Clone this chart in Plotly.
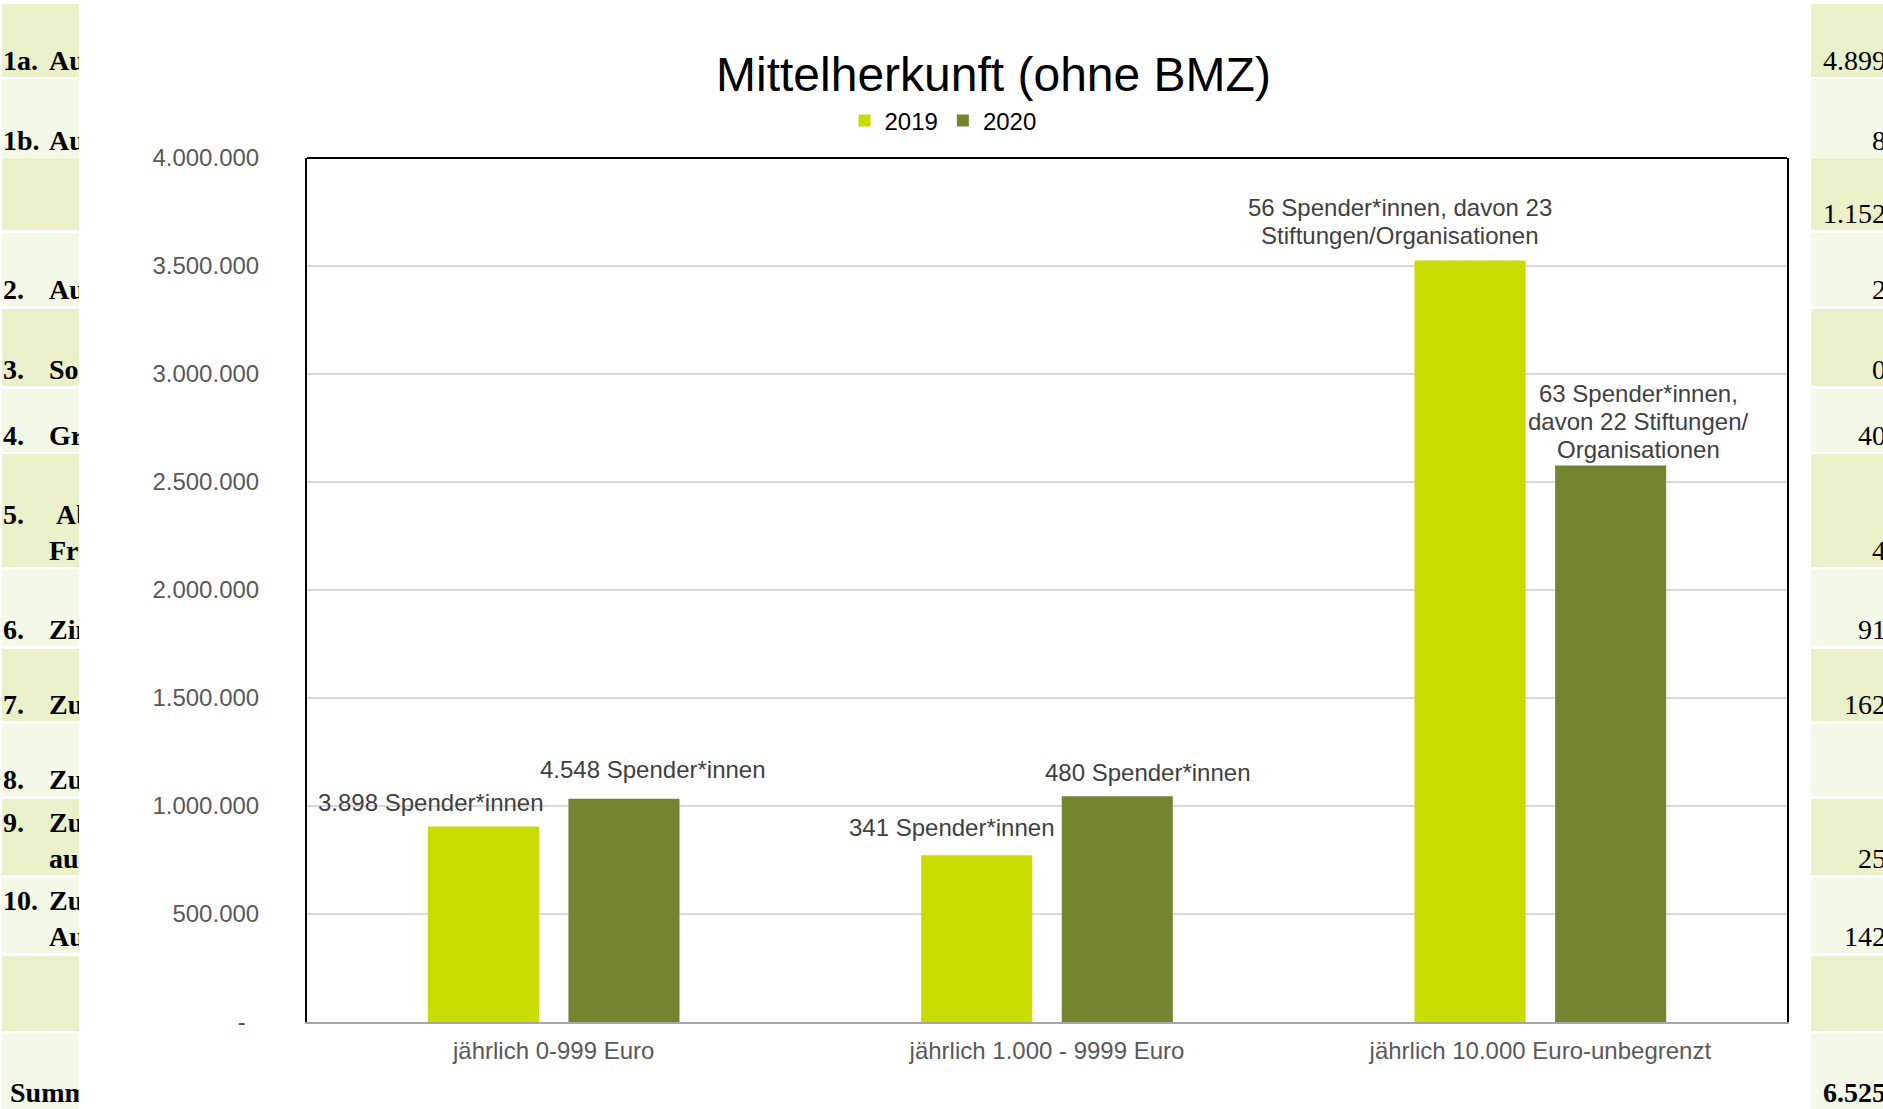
import plotly.graph_objects as go

# ---------------- data ----------------
categories = ["jährlich 0-999 Euro", "jährlich 1.000 - 9999 Euro", "jährlich 10.000 Euro-unbegrenzt"]
series_names = ["2019", "2020"]
values_2019 = [905000, 772000, 3525000]
values_2020 = [1033000, 1045000, 2576000]
labels_2019 = ["3.898 Spender*innen", "341 Spender*innen",
               "56 Spender*innen, davon 23<br>Stiftungen/Organisationen"]
labels_2020 = ["4.548 Spender*innen", "480 Spender*innen",
               "63 Spender*innen,<br>davon 22 Stiftungen/<br>Organisationen"]
y_tick_values = [0, 500000, 1000000, 1500000, 2000000, 2500000, 3000000, 3500000, 4000000]
y_tick_labels = ["-\u00a0\u00a0", "500.000", "1.000.000", "1.500.000", "2.000.000",
                 "2.500.000", "3.000.000", "3.500.000", "4.000.000"]

# background spreadsheet (visible, clipped parts)
table_left_numbers = ["1a.", "1b.", "", "2.", "3.", "4.", "5.<br>\u00a0", "6.", "7.", "8.",
                      "9.<br>\u00a0", "10.<br>\u00a0", "", "\u00a0Summ"]
table_left_words = ["Au", "Au", "", "Au", "Son", "Gr", "\u00a0Ab<br>Fr", "Zin", "Zu", "Zu",
                    "Zu<br>aus", "Zu<br>Au", "", ""]
table_right_values = ["4.899", "8", "1.152", "2", "0", "40", "4", "91", "162", "", "25", "142", "",
                      "<b>6.525</b>"]

# ---------------- layout constants (px) ----------------
W, H = 1883, 1109
PLOT_L, PLOT_R, PLOT_T, PLOT_B = 307, 1787, 158, 1022
LEFT_COL = (2, 79)
RIGHT_COL = (1811, 1883)
row_edges = [(4, 77), (79, 157), (158, 230), (233, 306), (309, 386), (389, 452), (454, 567),
             (570, 646), (649, 721), (724, 796), (799, 875), (878, 953), (956, 1031), (1034, 1109)]
row_fills = ["#EAF0C9", "#F4F8E7"]
series_colors = ["#C8DC00", "#748531"]
BARGAP = 0.43
BARGROUPGAP = 0.21
LABEL_LINE = 27.6
FONT = "Liberation Sans, Arial, sans-serif"
SERIF = "Liberation Serif, Times New Roman, serif"

fig = go.Figure()

# bars
for name, vals, color in zip(series_names, [values_2019, values_2020], series_colors):
    fig.add_trace(go.Bar(x=categories, y=vals, name=name, marker=dict(color=color, line=dict(width=0)),
                         xaxis="x", yaxis="y", hoverinfo="skip"))

# data labels (one annotation per text line, Excel-like line spacing)
cat_px = (PLOT_R - PLOT_L) / len(categories)
bar_off = cat_px * (1 - BARGAP) / 4
label_dx = [[-52, -25, -70], [29, 31, 28]]
label_dy = [[24, 28, 39], [29, 24, 44]]
for si, (vals, labs) in enumerate([(values_2019, labels_2019), (values_2020, labels_2020)]):
    sign = -1 if si == 0 else 1
    for ci, cat in enumerate(categories):
        lines = labs[ci].split("<br>")
        n = len(lines)
        for k, line in enumerate(lines):
            fig.add_annotation(x=cat, y=vals[ci], xref="x", yref="y", text=line, showarrow=False,
                               xshift=sign * bar_off + label_dx[si][ci],
                               yshift=label_dy[si][ci] + ((n - 1) / 2 - k) * LABEL_LINE,
                               xanchor="center", yanchor="middle",
                               font=dict(family=FONT, size=24, color="#404040"))

# background table text (clipped by hidden subplots)
row_bottoms = [b for (_, b) in row_edges]
fig.add_trace(go.Scatter(x=[3] * len(table_left_numbers), y=row_bottoms, text=table_left_numbers,
                         mode="text", textposition="top right", xaxis="x2", yaxis="y2",
                         textfont=dict(family=SERIF, size=28, color="#000000", weight="bold"),
                         showlegend=False, hoverinfo="skip"))
fig.add_trace(go.Scatter(x=[49] * len(table_left_words), y=row_bottoms, text=table_left_words,
                         mode="text", textposition="top right", xaxis="x2", yaxis="y2",
                         textfont=dict(family=SERIF, size=28, color="#000000", weight="bold"),
                         showlegend=False, hoverinfo="skip"))
fig.add_trace(go.Scatter(x=[1886] * len(table_right_values), y=row_bottoms, text=table_right_values,
                         mode="text", textposition="top left", xaxis="x3", yaxis="y2",
                         textfont=dict(family=SERIF, size=28, color="#000000"),
                         showlegend=False, hoverinfo="skip"))

# table cells
for i, (y0, y1) in enumerate(row_edges):
    for xref, (x0, x1) in [("x2", LEFT_COL), ("x3", RIGHT_COL)]:
        fig.add_shape(type="rect", xref=xref, yref="y2", x0=x0, x1=x1, y0=y0, y1=y1,
                      fillcolor=row_fills[i % 2], line=dict(width=0), layer="below")

# top border of plot area
fig.add_shape(type="line", xref="x domain", yref="y domain", x0=0, x1=1, y0=1, y1=1,
              line=dict(color="#000000", width=2))

# title
fig.add_annotation(text="Mittelherkunft (ohne BMZ)", xref="paper", yref="paper",
                   x=993 / W, y=1 - 74 / H, xanchor="center", yanchor="middle", showarrow=False,
                   font=dict(family=FONT, size=48, color="#000000"))

fig.update_layout(
    width=W, height=H, autosize=False,
    margin=dict(l=0, r=0, t=0, b=0, pad=0, autoexpand=False),
    paper_bgcolor="white", plot_bgcolor="white",
    barmode="group", bargap=BARGAP, bargroupgap=BARGROUPGAP,
    showlegend=True,
    legend=dict(orientation="h", x=943 / W, xanchor="center", y=1 - 121 / H, yanchor="middle",
                font=dict(family=FONT, size=24, color="#000000"), bgcolor="rgba(0,0,0,0)",
                itemclick=False, itemdoubleclick=False, itemwidth=30),
    xaxis=dict(domain=[PLOT_L / W, PLOT_R / W], anchor="y", showgrid=False, zeroline=False,
               showline=True, linecolor="#A6A6A6", linewidth=2, ticks="", automargin=False,
               tickfont=dict(family=FONT, size=24, color="#595959"), ticklabelstandoff=6),
    yaxis=dict(domain=[1 - PLOT_B / H, 1 - PLOT_T / H], anchor="x", range=[0, 4000000],
               tickvals=y_tick_values, ticktext=y_tick_labels, showgrid=True, gridcolor="#D9D9D9",
               gridwidth=1.5, zeroline=False, showline=True, linecolor="#000000", linewidth=2,
               mirror=True, ticks="", automargin=False,
               tickfont=dict(family=FONT, size=24, color="#595959"), ticklabelstandoff=41),
    xaxis2=dict(domain=[0, LEFT_COL[1] / W], range=[0, LEFT_COL[1]], anchor="y2", visible=False,
                fixedrange=True, automargin=False),
    xaxis3=dict(domain=[RIGHT_COL[0] / W, 1], range=[RIGHT_COL[0], RIGHT_COL[1]], anchor="y2",
                visible=False, fixedrange=True, automargin=False),
    yaxis2=dict(domain=[0, 1], range=[H, 0], anchor="x2", visible=False, fixedrange=True,
                automargin=False),
)

post = ("document.documentElement.style.margin='0';document.documentElement.style.padding='0';"
        "document.documentElement.style.overflow='hidden';"
        "document.body.style.margin='0';document.body.style.padding='0';document.body.style.overflow='hidden';")
fig.write_html("out.html", config={"displayModeBar": False}, post_script=post)
